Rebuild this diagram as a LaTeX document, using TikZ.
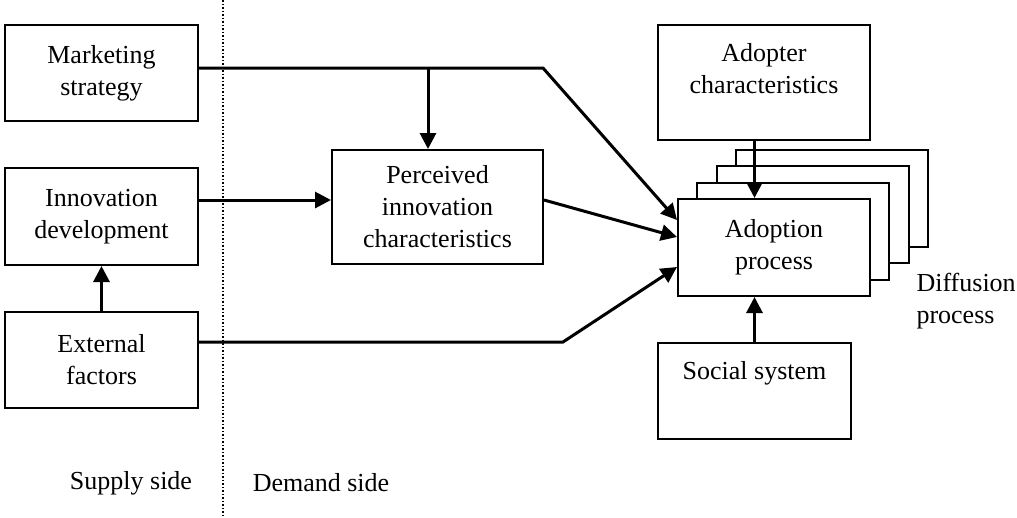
\documentclass[tikz,border=0pt]{standalone}
\usepackage{fontspec}
\setmainfont{Liberation Serif}
\usetikzlibrary{arrows.meta,calc}
\begin{document}
\begin{tikzpicture}[x=1pt,y=-1pt]

\tikzset{drawbox/.style={draw, rectangle, line width=2pt, fill=white, align=center, inner sep=0pt, font=\fontsize{26}{32}\selectfont}}
\tikzset{drawarrow/.style={line width=3pt, -{Triangle[length=16pt, width=16pt]}}}
\tikzset{drawtext/.style={font=\fontsize{26}{32}\selectfont, align=left}}

\useasboundingbox (0,0) rectangle (1017,517);

% supply / demand divider
\coordinate (top) at (223,0);
\coordinate (bottom) at (223,517);
\draw[dotted, line width=1.5pt] (top) -- (bottom);

% supply side
\node[drawbox, minimum width=193pt, minimum height=96pt] at (101.5,73) (mkt) {Marketing\\strategy};
\node[drawbox, minimum width=193pt, minimum height=97pt] at (101.5,216.5) (innov) {Innovation\\development};
\node[drawbox, minimum width=193pt, minimum height=96pt] at (101.5,360) (ext) {External\\factors};

% demand side
\node[drawbox, minimum width=211pt, minimum height=114pt] at (437.5,207) (perc) {Perceived\\innovation\\characteristics};
\node[drawbox, minimum width=212pt, minimum height=115pt] at (764,82.5) (adopter) {Adopter\\characteristics\\[-14pt]\strut};

% diffusion: stacked adoption processes
\foreach \i in {3,2,1}
  \draw[line width=2pt, fill=white] (678+19.3*\i, 199-16.3*\i) rectangle ++(192,97);
\node[drawbox, minimum width=192pt, minimum height=97pt] at (774,247.5) (adoption) {Adoption\\process};
\node[drawbox, minimum width=193pt, minimum height=96pt] at (754.5,391) (social) {Social system\\ \strut};

% labels
\node[drawtext] at (131,483) (supply) {Supply side};
\node[drawtext] at (321,483) (demand) {Demand side};
\node[drawtext, anchor=west] at (913,301) (diff) {Diffusion\\process};

% interactions
\coordinate (mktsplit) at (428,68);
\coordinate (mktbend) at (543,68);
\coordinate (extbend) at (563,342);
\draw[drawarrow] (mkt.east |- mktbend) -- (mktbend) -- ($(adoption.west)+(0,-27.5)$);
\draw[drawarrow] (mktsplit) -- (mktsplit |- perc.north);
\draw[drawarrow] ($(innov.east)+(0,-16.5)$) -- ($(perc.west)+(0,-7)$);
\draw[drawarrow] ($(perc.east)+(0,-7)$) -- ($(adoption.west)+(0,-10.5)$);
\draw[drawarrow] (ext.east |- extbend) -- (extbend) -- ($(adoption.west)+(0,19.5)$);
\draw[drawarrow] (ext.north) -- (innov.south);
\draw[drawarrow] (adopter.south -| social.north) -- (social.north |- adoption.north);
\draw[drawarrow] (social.north) -- (social.north |- adoption.south);

\end{tikzpicture}
\end{document}
